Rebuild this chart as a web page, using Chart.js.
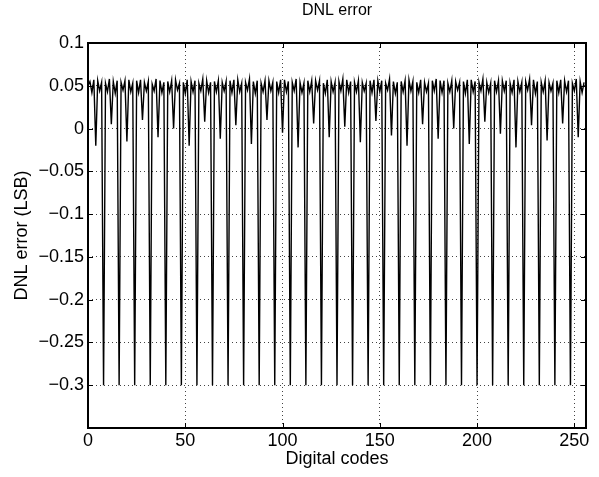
<!DOCTYPE html>
<html>
<head>
<meta charset="utf-8">
<script src="https://cdn.jsdelivr.net/npm/chart.js@4/dist/chart.umd.min.js"></script>
<style>
  html, body { margin: 0; padding: 0; background: #fff; }
  #wrap { width: 599px; height: 477px; }
</style>
</head>
<body>
<div id="wrap"><canvas id="dnl"></canvas></div>
<script>
// DNL error per digital code (0..255)
const dnlValues = [
  0.050, 0.055, 0.042, 0.057, -0.020, 0.056, 0.044, 0.054,
  -0.300, 0.053, 0.043, 0.058, 0.005, 0.055, 0.041, 0.056,
  -0.300, 0.054, 0.045, 0.056, -0.015, 0.057, 0.043, 0.053,
  -0.300, 0.056, 0.042, 0.057, 0.010, 0.054, 0.044, 0.055,
  -0.300, 0.052, 0.044, 0.058, -0.010, 0.056, 0.042, 0.054,
  -0.300, 0.055, 0.043, 0.056, 0.000, 0.057, 0.045, 0.053,
  -0.300, 0.054, 0.041, 0.057, -0.020, 0.055, 0.043, 0.056,
  -0.300, 0.053, 0.044, 0.058, 0.008, 0.056, 0.042, 0.054,
  -0.300, 0.055, 0.043, 0.056, -0.012, 0.054, 0.044, 0.055,
  -0.300, 0.056, 0.042, 0.057, 0.004, 0.057, 0.043, 0.053,
  -0.300, 0.054, 0.045, 0.058, -0.018, 0.055, 0.041, 0.056,
  -0.300, 0.053, 0.043, 0.056, 0.010, 0.056, 0.044, 0.054,
  -0.300, 0.055, 0.042, 0.057, -0.005, 0.057, 0.043, 0.055,
  -0.300, 0.054, 0.044, 0.058, -0.022, 0.054, 0.042, 0.053,
  -0.300, 0.056, 0.043, 0.056, 0.006, 0.056, 0.045, 0.056,
  -0.300, 0.053, 0.041, 0.057, -0.010, 0.055, 0.043, 0.054,
  -0.300, 0.055, 0.044, 0.058, 0.002, 0.057, 0.042, 0.055,
  -0.300, 0.054, 0.043, 0.056, -0.016, 0.054, 0.044, 0.053,
  -0.300, 0.056, 0.042, 0.057, 0.009, 0.056, 0.043, 0.056,
  -0.300, 0.053, 0.045, 0.058, -0.008, 0.055, 0.041, 0.054,
  -0.300, 0.055, 0.043, 0.056, -0.020, 0.057, 0.044, 0.055,
  -0.300, 0.054, 0.042, 0.057, 0.005, 0.054, 0.043, 0.053,
  -0.300, 0.056, 0.044, 0.058, -0.012, 0.056, 0.042, 0.056,
  -0.300, 0.053, 0.043, 0.056, 0.000, 0.055, 0.045, 0.054,
  -0.300, 0.055, 0.041, 0.057, -0.018, 0.057, 0.043, 0.055,
  -0.300, 0.054, 0.044, 0.058, 0.008, 0.054, 0.042, 0.053,
  -0.300, 0.056, 0.043, 0.056, -0.006, 0.056, 0.044, 0.056,
  -0.300, 0.053, 0.042, 0.057, -0.022, 0.055, 0.043, 0.054,
  -0.300, 0.055, 0.045, 0.058, 0.004, 0.057, 0.041, 0.055,
  -0.300, 0.054, 0.043, 0.056, -0.014, 0.054, 0.044, 0.053,
  -0.300, 0.056, 0.042, 0.057, 0.006, 0.056, 0.043, 0.056,
  -0.300, 0.053, 0.044, 0.058, -0.010, 0.055, 0.042, 0.054
];
const xTicks = [0, 50, 100, 150, 200, 250];
const yTicks = [0.1, 0.05, 0, -0.05, -0.1, -0.15, -0.2, -0.25, -0.3];
const chartTitle = 'DNL error';

const FAMILY = '"Liberation Sans", Arial, Helvetica, sans-serif';
const FONT = { family: FAMILY, size: 18 };

function fmtY(v) {
  const s = String(Math.round(v * 100) / 100);
  return s.replace('-', '\u2212');
}

// box round the plot with inward tick marks, like MATLAB, plus the title over the plot
const boxPlugin = {
  id: 'box',
  afterDatasetsDraw(chart) {
    const { ctx, chartArea: a, scales } = chart;
    ctx.save();
    ctx.strokeStyle = '#000';
    ctx.lineWidth = 1;
    xTicks.forEach(t => {
      const x = Math.round(scales.x.getPixelForValue(t)) + 0.5;
      ctx.beginPath();
      ctx.moveTo(x, a.bottom); ctx.lineTo(x, a.bottom - 5);
      ctx.moveTo(x, a.top); ctx.lineTo(x, a.top + 5);
      ctx.stroke();
    });
    yTicks.forEach(t => {
      const y = Math.round(scales.y.getPixelForValue(t)) + 0.5;
      ctx.beginPath();
      ctx.moveTo(a.left, y); ctx.lineTo(a.left + 5, y);
      ctx.moveTo(a.right, y); ctx.lineTo(a.right - 5, y);
      ctx.stroke();
    });
    ctx.lineWidth = 2;
    ctx.strokeRect(a.left, a.top, a.right - a.left, a.bottom - a.top);

    ctx.fillStyle = '#000';
    ctx.font = '16px ' + FAMILY;
    ctx.textAlign = 'center';
    ctx.textBaseline = 'middle';
    ctx.fillText(chartTitle, (a.left + a.right) / 2, 11);
    ctx.restore();
  }
};

new Chart(document.getElementById('dnl'), {
  type: 'line',
  data: {
    datasets: [{
      data: dnlValues.map((v, i) => ({ x: i, y: v })),
      borderColor: '#000',
      borderWidth: 1.4,
      pointRadius: 0,
      tension: 0,
      fill: false
    }]
  },
  options: {
    responsive: true,
    maintainAspectRatio: false,
    animation: false,
    layout: { padding: { left: 0, right: 13, top: 43, bottom: 0 } },
    plugins: {
      legend: { display: false },
      tooltip: { enabled: false },
      title: { display: false }
    },
    scales: {
      x: {
        type: 'linear',
        min: 0,
        max: 256,
        afterBuildTicks: s => { s.ticks = xTicks.map(v => ({ value: v })); },
        afterFit: s => { s.height = 49; },
        ticks: { color: '#000', font: FONT, padding: 2, maxRotation: 0 },
        grid: { color: '#444', borderDash: [1, 3], drawTicks: false },
        border: { display: false, dash: [1, 3] },
        title: {
          display: true, text: 'Digital codes', color: '#000', font: FONT,
          padding: { top: 0, bottom: 7 }
        }
      },
      y: {
        min: -0.35,
        max: 0.1,
        afterBuildTicks: s => { s.ticks = yTicks.map(v => ({ value: v })); },
        afterFit: s => { s.width = 88; },
        ticks: { color: '#000', font: FONT, padding: 4, callback: v => fmtY(v) },
        grid: { color: '#444', borderDash: [1, 3], drawTicks: false },
        border: { display: false, dash: [1, 3] },
        title: {
          display: true, text: 'DNL error (LSB)', color: '#000', font: FONT,
          padding: { top: 11, bottom: 0 }
        }
      }
    }
  },
  plugins: [boxPlugin]
});
</script>
</body>
</html>
